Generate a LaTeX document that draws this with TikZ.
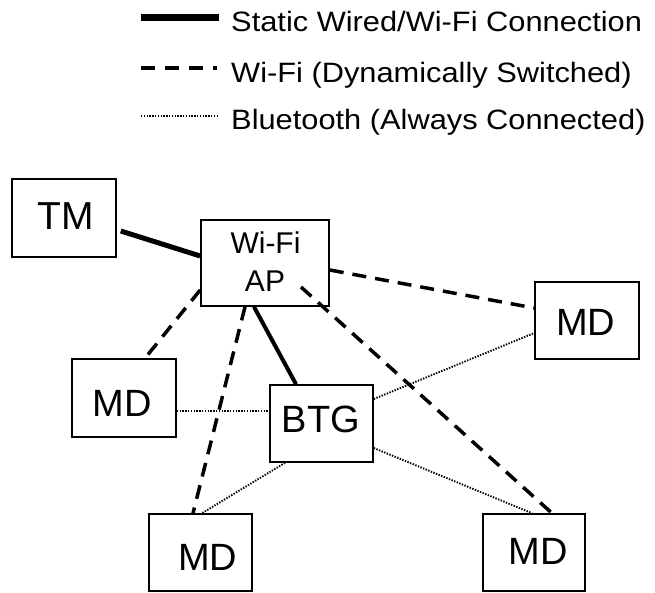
\documentclass[tikz,border=0pt]{standalone}
\usepackage{fontspec}
\setmainfont{Liberation Sans}
\usetikzlibrary{calc}
\tikzset{
  boxnode/.style={draw, line width=1.6pt, inner sep=0pt, fill=white},
  lbl/.style={anchor=base, inner sep=0pt},
  legtext/.style={anchor=base west, inner sep=0pt, font=\fontsize{28}{32}\selectfont, xscale=1.1},
  wired/.style={line width=5pt},
  wifi/.style={line width=3.5pt, dash pattern=on 14pt off 9pt},
  bt/.style={line width=1.9pt, dash pattern=on 1.4pt off 1.4pt},
}
\begin{document}
\begin{tikzpicture}[x=1pt,y=-1pt]
\useasboundingbox (0,0) rectangle (655,592);
% legend
\coordinate (la1) at (141,17);
\coordinate (lb1) at (219,17);
\coordinate (la2) at (141,68);
\coordinate (lb2) at (217,68);
\coordinate (la3) at (141,116);
\coordinate (lb3) at (219,116);
\draw[line width=7pt] (la1) -- (lb1);
\draw[line width=3.5pt, dash pattern=on 14pt off 10pt] (la2) -- (lb2);
\draw[bt, line width=1.3pt] (la3) -- (lb3);
\node[legtext] (lt1) at (231,31.5) {Static Wired/Wi-Fi Connection};
\node[legtext] (lt2) at (231,82.5) {Wi-Fi (Dynamically Switched)};
\node[legtext] (lt3) at (231,129) {Bluetooth (Always Connected)};

% boxes
\node[boxnode, minimum width=104pt, minimum height=78pt] (TM) at (64,218) {};
\node[boxnode, minimum width=128pt, minimum height=86pt] (AP) at (265,263) {};
\node[boxnode, minimum width=104pt, minimum height=77pt] (MDr) at (587,320.5) {};
\node[boxnode, minimum width=104pt, minimum height=78pt] (MDl) at (124,398) {};
\node[boxnode, minimum width=103pt, minimum height=77pt] (BTG) at (321.5,423.5) {};
\node[boxnode, minimum width=103pt, minimum height=77pt] (MDbl) at (200.5,552.5) {};
\node[boxnode, minimum width=102pt, minimum height=77pt] (MDbr) at (534,552.5) {};

% connectors
\draw[wired] ($(TM.east)+(4,13)$) -- ($(AP.west)+(0,-7)$);
\draw[wired, line width=4pt] ($(AP.south)+(-11,0)$) -- ($(BTG.north)+(-25.5,0)$);
\draw[wifi] ($(AP.east)+(0,7)$) -- ($(MDr.west)+(0,-12.5)$);
\draw[wifi] ($(AP.west)+(0,27)$) -- ($(MDl.north)+(21,0)$);
\draw[wifi] ($(AP.south)+(-20,0)$) -- ($(MDbl.north)+(-7.5,0)$);
\draw[wifi] ($(AP.center)+(36,24)$) -- ($(MDbr.north)+(18,0)$);
\draw[bt] ($(MDl.east)+(0,13)$) -- ($(BTG.west)+(0,-12.5)$);
\draw[bt] ($(BTG.east)+(0,-24.5)$) -- ($(MDr.west)+(0,12.5)$);
\draw[bt] ($(BTG.south)+(-36.5,0)$) -- ($(MDbl.north)+(1.5,0)$);
\draw[bt] ($(BTG.east)+(0,24.5)$) -- ($(MDbr.north)+(-2,0)$);

% texts
\node[lbl, font=\fontsize{39}{44}\selectfont] (tTM) at (65.5,229) {TM};
\node[lbl, font=\fontsize{30}{34}\selectfont] (tAP1) at (265.5,253) {Wi-Fi};
\node[lbl, font=\fontsize{30}{34}\selectfont] (tAP2) at (265,291) {AP};
\node[lbl, font=\fontsize{38}{44}\selectfont] (tMDr) at (585.7,335) {MD};
\node[lbl, font=\fontsize{38}{44}\selectfont] (tMDl) at (122.5,416.7) {MD};
\node[lbl, font=\fontsize{38}{44}\selectfont] (tBTG) at (321,432.7) {BTG};
\node[lbl, font=\fontsize{38}{44}\selectfont] (tMDbl) at (207.8,570.7) {MD};
\node[lbl, font=\fontsize{38}{44}\selectfont] (tMDbr) at (538.3,564.3) {MD};
\end{tikzpicture}
\end{document}
